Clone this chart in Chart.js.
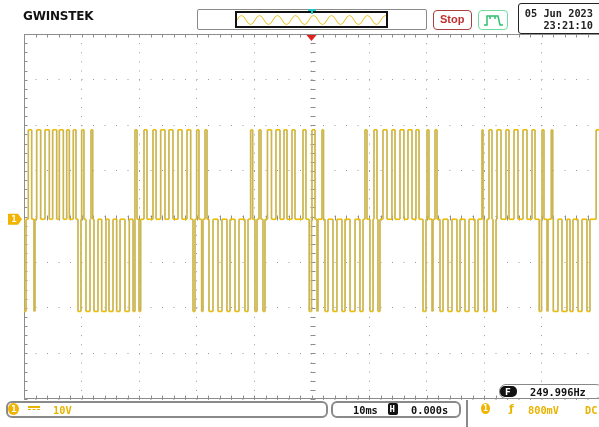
<!DOCTYPE html>
<html>
<head>
<meta charset="utf-8">
<script src="https://cdn.jsdelivr.net/npm/chart.js@4.4.0/dist/chart.umd.min.js"></script>
<style>
html, body { margin: 0; padding: 0; background: #fff; }
#scope { position: relative; width: 599px; height: 427px; overflow: hidden; background: #fff; }
#scope canvas { position: absolute; left: 0; top: 0; }
.box { position: absolute; box-sizing: border-box; background: #fff; }
.txt { position: absolute; white-space: nowrap; line-height: 1; font-family: 'DejaVu Sans Mono', monospace; font-weight: bold; font-size: 10.3px; }
.yel { color: #e8b400; }
</style>
</head>
<body>
<div id="scope">
  <canvas id="osc" width="599" height="427"></canvas>

  <!-- cabecera -->
  <div class="txt" style="left:23px;top:10px;font-family:'DejaVu Sans',sans-serif;font-size:12px;color:#111;letter-spacing:-0.2px">GWINSTEK</div>

  <div class="box" style="left:197px;top:9px;width:230px;height:21px;border:1.5px solid #8a8a8a;border-radius:2px"></div>
  <div class="box" style="left:235px;top:11px;width:153px;height:17px;border:2px solid #111;background:transparent">
    <svg width="149" height="13" style="position:absolute;left:0;top:0">
      <path d="M0,7 q4.5,-9 9,0 t9,0 t9,0 t9,0 t9,0 t9,0 t9,0 t9,0 t9,0 t9,0 t9,0 t9,0 t9,0 t9,0 t9,0 t9,0 t9,0" fill="none" stroke="#e8c020" stroke-width="1"/>
    </svg>
  </div>
  <svg width="8" height="5" style="position:absolute;left:308px;top:9px">
    <path d="M0,1 L8,1 M4,1 L4,5" stroke="#22c8c8" stroke-width="2"/>
  </svg>

  <div class="box" style="left:433px;top:10px;width:39px;height:20px;border:1.5px solid #a84040;border-radius:4px"></div>
  <div class="txt" style="left:440px;top:14px;font-family:'Liberation Sans',sans-serif;font-size:11px;color:#c23030">Stop</div>

  <div class="box" style="left:478px;top:10px;width:30px;height:20px;border:1.5px solid #70dca0;border-radius:4px">
    <svg width="28" height="18" style="position:absolute;left:0;top:0">
      <path d="M5,14 L8,14 L8,5 L19,5 L21,14 L24,14 M11,5 L11,8 M16,5 L16,8" fill="none" stroke="#30c070" stroke-width="1.5"/>
    </svg>
  </div>

  <div class="box" style="left:518px;top:3px;width:86px;height:31px;border:1.5px solid #222;border-radius:3px"></div>
  <div class="txt" style="right:6px;top:8px;color:#222">05 Jun 2023</div>
  <div class="txt" style="right:6px;top:20px;color:#222">23:21:10</div>

  <!-- pie -->
  <div class="box" style="left:499px;top:384px;width:104px;height:15px;border:1.5px solid #888;border-radius:7px"></div>
  <div class="box" style="left:500px;top:386px;width:17px;height:11px;background:#111;border-radius:5px"></div>
  <div class="txt" style="left:505px;top:386.5px;color:#fff;font-size:9.5px">F</div>
  <div class="txt" style="left:530px;top:387px;color:#111">249.996Hz</div>

  <div class="box" style="left:6px;top:401px;width:322px;height:17px;border:2px solid #8a8a8a;border-radius:6px"></div>
  <div class="box" style="left:8px;top:403px;width:11px;height:12px;background:#f0b400;border-radius:50%"></div>
  <div class="txt" style="left:11px;top:404px;color:#fff;font-size:9.5px">1</div>
  <div class="box" style="left:28px;top:406px;width:12px;height:1.5px;background:#e8b400"></div>
  <div class="box" style="left:28px;top:409px;width:12px;height:0;border-top:1.5px dashed #e8b400;background:transparent"></div>
  <div class="txt yel" style="left:53px;top:405px">10V</div>

  <div class="box" style="left:331px;top:401px;width:130px;height:17px;border:2px solid #8a8a8a;border-radius:6px"></div>
  <div class="txt" style="left:353px;top:405px;color:#111">10ms</div>
  <div class="box" style="left:388px;top:403px;width:10px;height:12px;background:#111;border-radius:2px"></div>
  <div class="txt" style="left:389.5px;top:404.5px;color:#fff;font-size:9px">H</div>
  <div class="txt" style="left:411px;top:405px;color:#111">0.000s</div>

  <div class="box" style="left:466px;top:400px;width:1.5px;height:27px;background:#8a8a8a"></div>
  <div class="box" style="left:481px;top:403px;width:9px;height:11px;background:#f0b400;border-radius:50%"></div>
  <div class="txt" style="left:483px;top:404px;color:#fff;font-size:8.5px">1</div>
  <div class="txt yel" style="left:509px;top:403px;font-family:'DejaVu Sans',sans-serif;font-size:11px">ƒ</div>
  <div class="txt yel" style="left:528px;top:405px">800mV</div>
  <div class="txt yel" style="left:585px;top:405px">DC</div>
</div>

<script>
// escala de la pantalla: 10 ms/div horizontal, 10 V/div vertical
var tiempoMin = 0, tiempoMax = 100;
var voltMin = -40, voltMax = 40;
var pasoTiempo = 10, pasoVolt = 10;

// niveles de la señal (V): alto, cero, bajo
var nivelesNombre = ['alto', 'cero', 'bajo'];
var nivelesVolt = [19.0, -0.6, -20.8];

// pulsos positivos (ms): inicio y fin
var posInicio = [0.75, 2.21, 3.65, 4.99, 6.14, 7.43, 8.57, 10.03, 11.65,
    19.30, 20.87, 22.43, 23.77, 25.21, 26.78, 28.35, 30.03, 31.48,
    39.42, 40.87, 42.34, 43.82, 45.22, 46.61, 48.52, 50.08, 51.82,
    59.30, 60.87, 62.43, 63.99, 65.39, 66.78, 68.17, 70.09, 71.48,
    79.65, 80.87, 82.26, 83.82, 85.22, 86.78, 88.35, 90.09, 91.70,
    99.50];
var posFin = [1.34, 2.90, 4.40, 5.69, 6.84, 7.88, 9.04, 10.43, 11.95,
    19.65, 21.39, 22.96, 24.52, 25.91, 27.48, 28.99, 30.43, 31.83,
    39.77, 41.22, 43.04, 44.52, 45.74, 47.13, 49.04, 50.61, 52.09,
    59.65, 61.39, 63.13, 64.52, 66.08, 67.48, 68.70, 70.43, 71.83,
    79.83, 81.39, 82.96, 84.35, 85.91, 87.48, 88.87, 90.43, 91.95,
    101];

// pulsos negativos (ms): inicio y fin
var negInicio = [0.00, 1.74,
    9.39, 10.78, 12.17, 13.51, 14.78, 16.12, 17.56, 18.96, 20.00,
    29.39, 30.90, 32.17, 33.74, 35.30, 36.70, 38.43, 40.17, 41.56,
    49.60, 50.96, 52.35, 53.74, 55.30, 56.70, 58.43, 60.17, 61.56,
    69.39, 70.96, 72.35, 73.74, 75.30, 76.70, 78.43, 80.00, 81.57,
    89.60, 90.96, 92.05, 93.56, 94.96, 96.35, 97.91];
var negFin = [0.35, 1.91,
    9.91, 11.48, 12.87, 14.26, 15.48, 16.70, 18.31, 19.30, 20.29,
    29.74, 31.13, 32.87, 34.43, 35.83, 37.39, 38.96, 40.52, 41.91,
    50.00, 51.13, 52.87, 54.43, 55.83, 57.57, 58.96, 60.70, 61.91,
    69.91, 71.13, 72.87, 74.43, 75.83, 77.39, 78.96, 80.52, 82.09,
    90.00, 91.13, 92.87, 94.43, 95.48, 97.04, 98.43];

var pulsos = [];
for (var i = 0; i < posInicio.length; i++) {
    pulsos.push([posInicio[i], posFin[i], nivelesVolt[0]]);
}
for (var i = 0; i < negInicio.length; i++) {
    pulsos.push([negInicio[i], negFin[i], nivelesVolt[2]]);
}
pulsos.sort((a, b) => a[0] - b[0]);

var cero = nivelesVolt[1];
var traza = [];
pulsos.forEach(function (p) {
    traza.push({x: p[0], y: cero}, {x: p[0], y: p[2]}, {x: p[1], y: p[2]}, {x: p[1], y: cero});
});

// retícula: marco, marcas menores y marcadores
var reticula = {
    id: 'reticula',
    beforeDatasetsDraw: function (chart) {
        var ctx = chart.ctx, a = chart.chartArea;
        var sx = chart.scales.x, sy = chart.scales.y;
        var cx = Math.round(sx.getPixelForValue((tiempoMin + tiempoMax) / 2)) + 0.5;
        var cy = Math.round(sy.getPixelForValue(0)) + 0.5;
        var L = Math.round(a.left) + 0.5, T = Math.round(a.top) + 0.5, B = Math.round(a.bottom) - 0.5;
        ctx.save();
        ctx.strokeStyle = '#8c8c8c';
        ctx.lineWidth = 1;
        ctx.beginPath();
        ctx.moveTo(a.right + 2, T); ctx.lineTo(L, T); ctx.lineTo(L, B); ctx.lineTo(a.right + 2, B);
        for (var t = tiempoMin; t <= tiempoMax; t += pasoTiempo / 5) {
            var px = Math.round(sx.getPixelForValue(t)) + 0.5;
            ctx.moveTo(px, T); ctx.lineTo(px, T + 3);
            ctx.moveTo(px, B); ctx.lineTo(px, B - 3);
            ctx.moveTo(px, cy - 2); ctx.lineTo(px, cy + 3);
        }
        for (var v = voltMin; v <= voltMax; v += pasoVolt / 5) {
            var py = Math.round(sy.getPixelForValue(v)) + 0.5;
            ctx.moveTo(L, py); ctx.lineTo(L + 3, py);
            ctx.moveTo(cx - 2, py); ctx.lineTo(cx + 3, py);
        }
        ctx.stroke();
        ctx.restore();
    },
    afterDraw: function (chart) {
        var ctx = chart.ctx, a = chart.chartArea;
        var sx = chart.scales.x, sy = chart.scales.y;
        var cx = sx.getPixelForValue((tiempoMin + tiempoMax) / 2);
        ctx.save();
        // disparo
        ctx.fillStyle = '#e0201c';
        ctx.beginPath();
        ctx.moveTo(cx - 5, a.top + 1); ctx.lineTo(cx + 5, a.top + 1); ctx.lineTo(cx, a.top + 7);
        ctx.closePath(); ctx.fill();
        // marcador de canal 1 en el nivel cero
        var y0 = sy.getPixelForValue(cero);
        ctx.fillStyle = '#f2b400';
        ctx.beginPath();
        ctx.moveTo(8, y0 - 5.5); ctx.lineTo(18, y0 - 5.5); ctx.lineTo(22, y0);
        ctx.lineTo(18, y0 + 5.5); ctx.lineTo(8, y0 + 5.5);
        ctx.closePath(); ctx.fill();
        ctx.fillStyle = '#fff';
        ctx.font = 'bold 9px "DejaVu Sans Mono"';
        ctx.textAlign = 'center';
        ctx.textBaseline = 'middle';
        ctx.fillText('1', 14, y0 + 0.5);
        ctx.restore();
    }
};

var ctx = document.getElementById('osc').getContext('2d');
var chart = new Chart(ctx, {
    type: 'line',
    data: {
        datasets: [{
                label: 'CH1',
                data: traza,
                borderColor: '#f0c000',
                borderWidth: 1.7,
                pointRadius: 0,
                fill: false,
                tension: 0,
                segment: {
                    // flancos verticales en tono oliva, como en la pantalla
                    borderColor: function (c) {
                        return c.p0.parsed.x === c.p1.parsed.x ? '#cbb54e' : '#f0c000';
                    }
                }
            }]
    },
    options: {
        responsive: false,
        animation: false,
        devicePixelRatio: 1,
        layout: {padding: {left: 24, top: 34, right: 0, bottom: 28}},
        plugins: {legend: {display: false}, tooltip: {enabled: false}},
        scales: {
            x: {
                type: 'linear', min: tiempoMin, max: tiempoMax,
                ticks: {display: false, stepSize: pasoTiempo},
                grid: {color: '#9a9a9a', lineWidth: 1, drawTicks: false},
                border: {display: false, dash: [1, 8.125]}
            },
            y: {
                type: 'linear', min: voltMin, max: voltMax,
                ticks: {display: false, stepSize: pasoVolt},
                grid: {color: '#9a9a9a', lineWidth: 1, drawTicks: false},
                border: {display: false, dash: [1, 10.5]}
            }
        }
    },
    plugins: [reticula]
});
</script>
</body>
</html>
